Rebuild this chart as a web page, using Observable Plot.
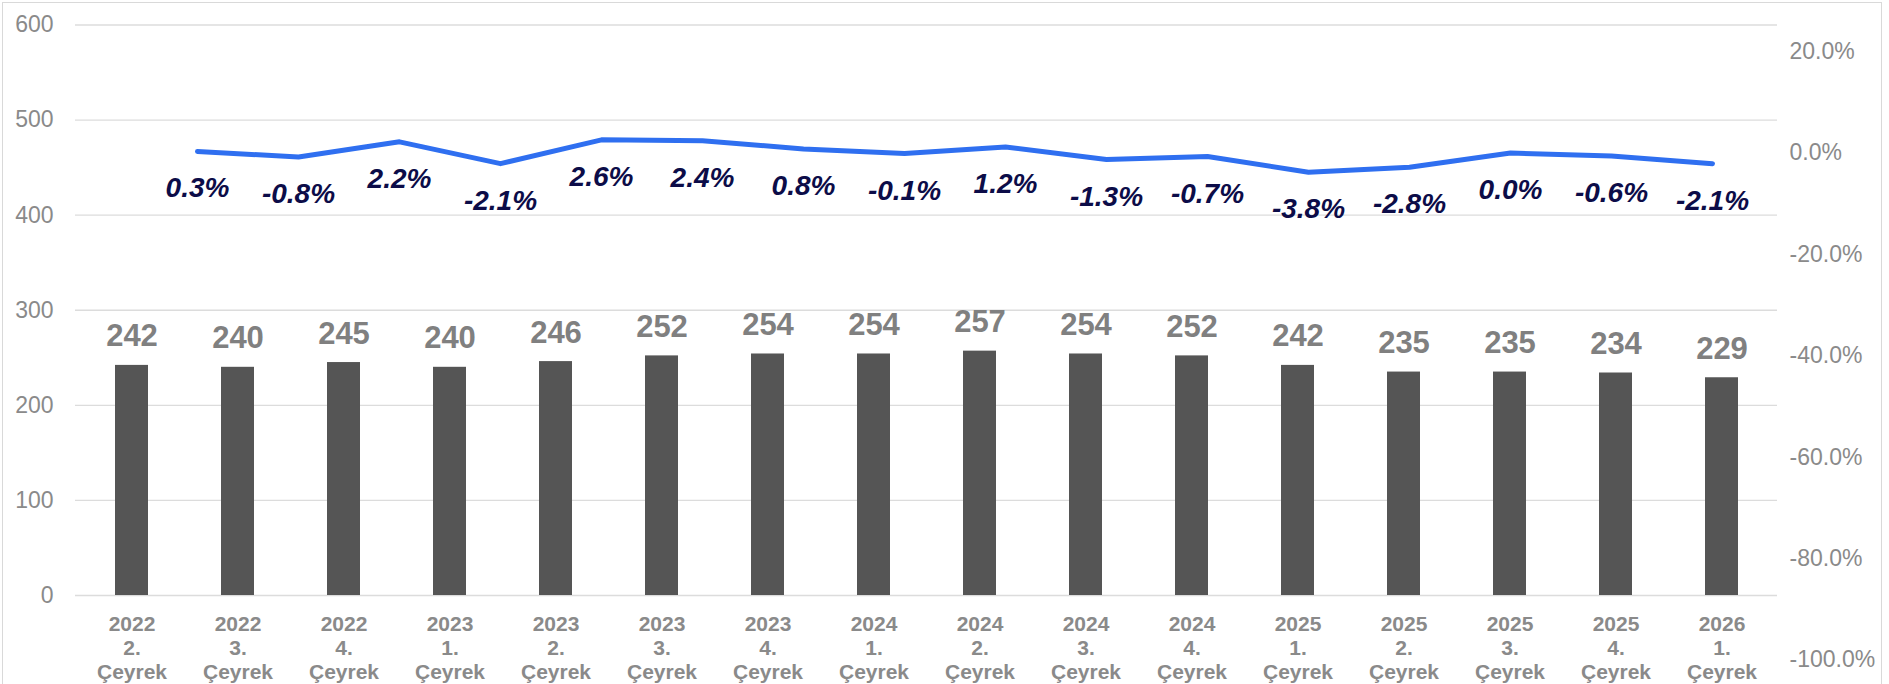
<!DOCTYPE html>
<html><head><meta charset="utf-8">
<script src="https://cdn.jsdelivr.net/npm/d3@7"></script>
<script src="https://cdn.jsdelivr.net/npm/@observablehq/plot@0.6"></script>
<style>
body{margin:0;background:#fff;}
#chart{position:relative;width:1889px;height:684px;overflow:hidden;background:#fff;}
#chart svg{position:absolute;left:0;top:0;}
#border{position:absolute;left:2px;top:2px;width:1880px;height:720px;border:1px solid #d9d9d9;box-sizing:border-box;}
</style></head><body><div id="chart"><div id="border"></div></div>
<script>
const years = ["2022","2022","2022","2023","2023","2023","2023","2024","2024","2024","2024","2025","2025","2025","2025","2026"];
const quarters = ["2.","3.","4.","1.","2.","3.","4.","1.","2.","3.","4.","1.","2.","3.","4.","1."];
const values = [242,240,245,240,246,252,254,254,257,254,252,242,235,235,234,229];
const changes = [0.3,-0.8,2.2,-2.1,2.6,2.4,0.8,-0.1,1.2,-1.3,-0.7,-3.8,-2.8,0.0,-0.6,-2.1];
const leftTicks = [0,100,200,300,400,500,600];
const rightTicks = [-100,-80,-60,-40,-20,0,20];

const categories = years.map((y,i)=>`${y}\n${quarters[i]}\nÇeyrek`);
const data = categories.map((c,i)=>({cat:c, value:values[i], change:changes[i]}));

const W = 1889, H = 684;
const font = "'Liberation Sans', Arial, sans-serif";

const bars = Plot.plot({
  width: W, height: H,
  marginLeft: 75, marginRight: 112, marginTop: 24.5, marginBottom: 89,
  style: {fontFamily: font, background: "transparent", overflow: "visible"},
  x: {domain: categories, paddingInner: 0.69, paddingOuter: 0.345, axis: null},
  y: {domain: [0, 600], axis: null},
  marks: [
    Plot.gridY(leftTicks, {stroke: "#dcdcdc", strokeOpacity: 1, strokeWidth: 1.4}),
    Plot.axisY(leftTicks, {tickSize: 0, tickPadding: 22, fontSize: 23, fill: "#8a8a8a", label: null}),
    Plot.axisX({tickSize: 0, tickPadding: 18, fontSize: 21, fontWeight: "bold", fill: "#8a8a8a", lineHeight: 1.15, label: null}),
    Plot.barY(data, {x: "cat", y: "value", fill: "#555555"}),
    Plot.text(data, {x: "cat", y: "value", text: d => String(d.value), lineAnchor: "bottom", dy: -19, fontSize: 31, fontWeight: "bold", fill: "#808080"})
  ]
});

const line = Plot.plot({
  width: W, height: H,
  marginLeft: 192.3, marginRight: 172, marginTop: 51.1, marginBottom: 24.5,
  style: {fontFamily: font, background: "transparent", overflow: "visible"},
  x: {type: "point", domain: categories, padding: 0, axis: null},
  y: {domain: [-100, 20], axis: null},
  marks: [
    Plot.axisY(rightTicks, {anchor: "right", tickSize: 0, tickPadding: 72, tickFormat: d => d.toFixed(1) + "%", fontSize: 23, fill: "#8a8a8a", label: null}),
    Plot.line(data, {x: "cat", y: "change", stroke: "#2f6ff0", strokeWidth: 5, strokeLinecap: "round", strokeLinejoin: "round"}),
    Plot.text(data, {x: "cat", y: "change", text: d => d.change.toFixed(1) + "%", lineAnchor: "bottom", dy: 46, fontSize: 28, fontWeight: "bold", fontStyle: "italic", fill: "#0c0c48"})
  ]
});

const chart = document.getElementById("chart");
chart.appendChild(bars);
chart.appendChild(line);
</script>
</body></html>
